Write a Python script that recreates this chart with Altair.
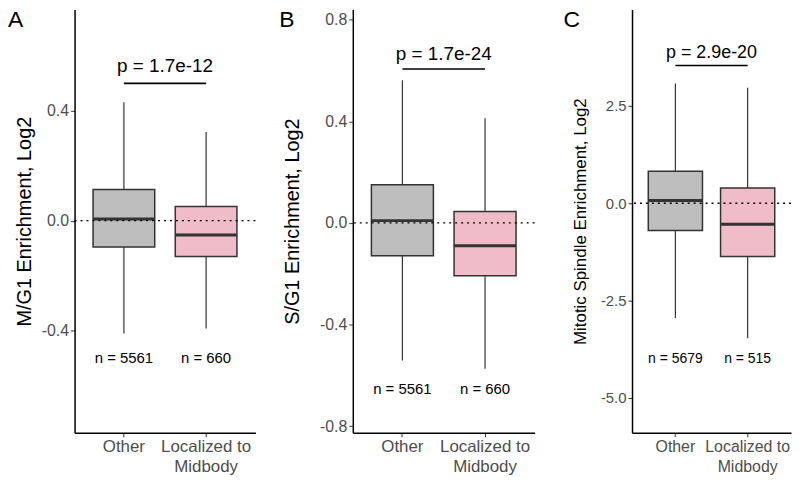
import altair as alt
import pandas as pd

FONT = "Liberation Sans"
cats = ["Other", "Localized to Midbody"]
box_colors = ["#bebebe", "#f0bcc9"]

# Panel A : M/G1
a_low = [-0.411, -0.392]
a_q1 = [-0.096, -0.130]
a_med = [0.006, -0.052]
a_q3 = [0.114, 0.052]
a_high = [0.431, 0.323]
a_n = ["n = 5561", "n = 660"]
a_ny = [-0.50, -0.50]
a_p = "p = 1.7e-12"
a_pline = 0.50
a_ptext = 0.563
a_domain = [-0.772, 0.769]
a_ticks = [-0.4, 0.0, 0.4]

# Panel B : S/G1
b_low = [-0.542, -0.574]
b_q1 = [-0.129, -0.208]
b_med = [0.009, -0.090]
b_q3 = [0.150, 0.045]
b_high = [0.561, 0.412]
b_n = ["n = 5561", "n = 660"]
b_ny = [-0.655, -0.655]
b_p = "p = 1.7e-24"
b_pline = 0.606
b_ptext = 0.666
b_domain = [-0.826, 0.84]
b_ticks = [-0.8, -0.4, 0.0, 0.4, 0.8]

# Panel C : Mitotic spindle
c_low = [-2.95, -3.47]
c_q1 = [-0.70, -1.37]
c_med = [0.07, -0.54]
c_q3 = [0.82, 0.39]
c_high = [3.08, 2.97]
c_n = ["n = 5679", "n = 515"]
c_ny = [-4.0, -4.0]
c_p = "p = 2.9e-20"
c_pline = 3.54
c_ptext = 3.85
c_domain = [-5.9, 4.98]
c_ticks = [-5.0, -2.5, 0.0, 2.5]

H = 426


def panel(letter, ytitle, low, q1, med, q3, high, nlab, ny, ptxt, pline, ptexty,
          domain, ticks, W, tick_fs, title_fs, p_fs, n_fs, title_x, letter_x, fmt):
    df = pd.DataFrame({"cat": cats, "low": low, "q1": q1, "med": med, "q3": q3,
                       "high": high, "n": nlab, "ny": ny})
    xscale = alt.Scale(domain=cats, paddingInner=0, paddingOuter=0.1)
    yscale = alt.Scale(domain=domain, nice=False, zero=False)
    xaxis = alt.Axis(title=None, labelAngle=0, labelFontSize=tick_fs + 1,
                     labelColor="#4d4d4d", labelLineHeight=20, labelPadding=2,
                     labelExpr="datum.value == 'Localized to Midbody' ? ['Localized to', 'Midbody'] : datum.label",
                     tickSize=4, tickColor="#333333", domainColor="#000000", domainWidth=1.5)
    yaxis = alt.Axis(title=ytitle, values=ticks, labelFontSize=tick_fs, labelColor="#4d4d4d",
                     labelExpr="(datum.value < 0 ? '-' : '') + format(abs(datum.value), '" + fmt + "')",
                     labelPadding=2, tickSize=4, tickColor="#333333",
                     domainColor="#000000", domainWidth=1.5,
                     titleFontSize=title_fs, titleFontWeight="normal", titleColor="#000000",
                     titleX=title_x, titleY=H / 2, titleBaseline="middle", titleAlign="center",
                     titleAngle=270)
    base = alt.Chart(df)
    x = alt.X("cat:N", scale=xscale, sort=cats, axis=xaxis)
    whisk = base.mark_rule(color="#333333", strokeWidth=1.2).encode(
        x=x, y=alt.Y("low:Q", scale=yscale, axis=yaxis), y2="high:Q")
    box = base.mark_bar(stroke="#333333", strokeWidth=1.5,
                        width=alt.RelativeBandSize(0.75)).encode(
        x=x, y="q1:Q", y2="q3:Q",
        fill=alt.Fill("cat:N", scale=alt.Scale(domain=cats, range=box_colors), legend=None))
    medl = base.mark_tick(color="#333333", thickness=3, opacity=1,
                          size=0.75 * W / 2.2).encode(x=x, y="med:Q")
    zero = alt.Chart(pd.DataFrame({"z": [0.0]})).mark_rule(
        color="#000000", strokeDash=[2, 4], strokeWidth=1.3).encode(y="z:Q")
    ntext = base.mark_text(fontSize=n_fs, font=FONT, color="#000000").encode(
        x=x, y="ny:Q", text="n:N")
    letter_df = pd.DataFrame({"t": [letter]})
    let = alt.Chart(letter_df).mark_text(align="left", baseline="top", fontSize=23,
                                          font=FONT, color="#000000").encode(
        x=alt.value(letter_x), y=alt.value(0), text="t:N")

    ann_df = pd.DataFrame({"x1": [1.0], "x2": [2.0], "xm": [1.5], "yl": [pline],
                           "yt": [ptexty], "p": [ptxt]})
    ascale = alt.Scale(domain=[0.4, 2.6], nice=False, zero=False)
    bracket = alt.Chart(ann_df).mark_rule(color="#000000", strokeWidth=1.6).encode(
        x=alt.X("x1:Q", scale=ascale, axis=None), x2="x2:Q", y="yl:Q")
    ptext = alt.Chart(ann_df).mark_text(fontSize=p_fs, font=FONT, color="#000000").encode(
        x=alt.X("xm:Q", scale=ascale, axis=None), y="yt:Q", text="p:N")

    main = alt.layer(whisk, box, medl, zero, ntext, let)
    ann = alt.layer(bracket, ptext)
    return alt.layer(main, ann).resolve_scale(x="independent").properties(width=W, height=H)


pa = panel("A", "M/G1 Enrichment, Log2", a_low, a_q1, a_med, a_q3, a_high, a_n, a_ny,
           a_p, a_pline, a_ptext, a_domain, a_ticks, 182, 16, 20, 19, 15, -50, -67, ".1f")
pb = panel("B", "S/G1 Enrichment, Log2", b_low, b_q1, b_med, b_q3, b_high, b_n, b_ny,
           b_p, b_pline, b_ptext, b_domain, b_ticks, 183, 16, 20, 19, 15, -61, -74, ".1f")
pc = panel("C", "Mitotic Spindle Enrichment, Log2", c_low, c_q1, c_med, c_q3, c_high, c_n, c_ny,
           c_p, c_pline, c_ptext, c_domain, c_ticks, 160, 15, 17, 18, 14, -52, -69, ".1f")

chart = alt.hconcat(pa, pb, pc, spacing=98, bounds="flush").properties(
    padding=0
).configure_view(stroke=None).configure_axis(grid=False, labelFont=FONT, titleFont=FONT
).configure_text(font=FONT)

chart.save("out.html", embed_options={"renderer": "svg", "actions": False})
